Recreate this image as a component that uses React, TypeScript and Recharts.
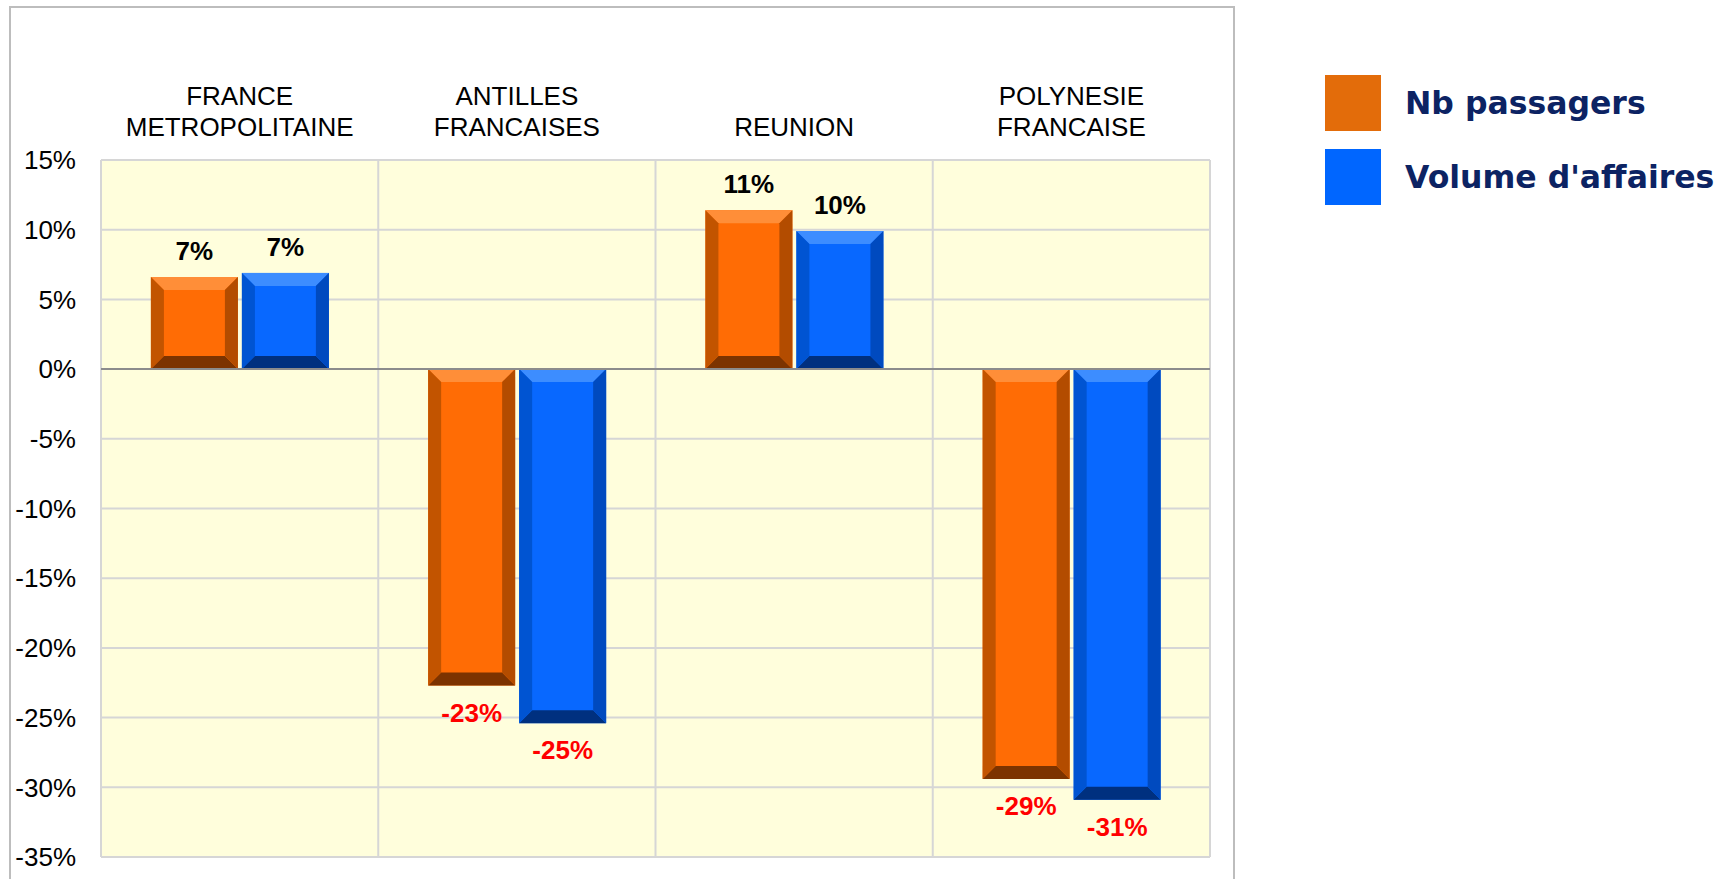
import {
  Bar,
  BarChart,
  CartesianGrid,
  LabelList,
  Legend,
  ReferenceLine,
  XAxis,
  YAxis,
} from "recharts";

const regions = [
  "FRANCE\nMETROPOLITAINE",
  "ANTILLES\nFRANCAISES",
  "REUNION",
  "POLYNESIE\nFRANCAISE",
];
const passagers = [6.6, -22.7, 11.4, -29.4];
const volume = [6.9, -25.4, 9.9, -30.9];
const seriesNames = ["Nb passagers", "Volume d'affaires"];
const yTicks = [15, 10, 5, 0, -5, -10, -15, -20, -25, -30, -35];

const data = regions.map((region, i) => ({
  region,
  passagers: passagers[i],
  volume: volume[i],
}));

const FONT = "'Liberation Sans', Arial, sans-serif";

const orange = {
  face: "#FF6C05",
  top: "#FF8E38",
  left: "#C25400",
  right: "#B34C00",
  bottom: "#7C3300",
  legend: "#E36C0A",
};
const blue = {
  face: "#0868FF",
  top: "#3D8DFF",
  left: "#0054D2",
  right: "#004ABF",
  bottom: "#00307F",
  legend: "#0066FF",
};

// bar with a simple bevel: light top edge, darker sides, darkest bottom
const BevelBar = (props: any) => {
  const { x, y, width, height, colors } = props;
  if (!width || !height) return null;
  const top = Math.min(y, y + height);
  const h = Math.abs(height);
  const b = Math.min(13, h / 2, width / 2);
  const r = x + width;
  const bt = top + h;
  return (
    <g>
      <rect x={x} y={top} width={width} height={h} fill={colors.face} />
      <polygon
        points={`${x},${top} ${r},${top} ${r - b},${top + b} ${x + b},${top + b}`}
        fill={colors.top}
      />
      <polygon
        points={`${x},${bt} ${r},${bt} ${r - b},${bt - b} ${x + b},${bt - b}`}
        fill={colors.bottom}
      />
      <polygon
        points={`${x},${top} ${x + b},${top + b} ${x + b},${bt - b} ${x},${bt}`}
        fill={colors.left}
      />
      <polygon
        points={`${r},${top} ${r - b},${top + b} ${r - b},${bt - b} ${r},${bt}`}
        fill={colors.right}
      />
    </g>
  );
};

const ValueLabel = (props: any) => {
  const { x, y, width, height, value } = props;
  const top = Math.min(y, y + height);
  const bottom = Math.max(y, y + height);
  const neg = value < 0;
  return (
    <text
      x={x + width / 2}
      y={neg ? bottom + 27 : top - 26}
      textAnchor="middle"
      dominantBaseline="central"
      fontFamily={FONT}
      fontWeight="bold"
      fontSize={26}
      fill={neg ? "#FF0000" : "#000000"}
    >
      {`${Math.round(value)}%`}
    </text>
  );
};

const RegionTick = (props: any) => {
  const { x, y, payload } = props;
  const lines = String(payload.value).split("\n");
  return (
    <g>
      {lines.map((line, i) => (
        <text
          key={i}
          x={x}
          y={y - 25 - (lines.length - 1 - i) * 31}
          textAnchor="middle"
          dominantBaseline="central"
          fontFamily={FONT}
          fontSize={26}
          fill="#000"
        >
          {line}
        </text>
      ))}
    </g>
  );
};

const LegendBox = () => (
  <div style={{ fontFamily: "'DejaVu Sans', Verdana, sans-serif" }}>
    {[orange, blue].map((c, i) => (
      <div
        key={i}
        style={{
          display: "flex",
          alignItems: "center",
          height: 56,
          marginBottom: 18,
        }}
      >
        <div style={{ width: 56, height: 56, background: c.legend }} />
        <span
          style={{
            marginLeft: 24,
            fontSize: 31.5,
            fontWeight: "bold",
            color: "#0C2363",
            whiteSpace: "nowrap",
          }}
        >
          {seriesNames[i]}
        </span>
      </div>
    ))}
  </div>
);

export default function App() {
  return (
    <div
      style={{
        position: "absolute",
        left: 0,
        top: 0,
        width: 1729,
        height: 879,
        overflow: "hidden",
        background: "#fff",
        fontFamily: FONT,
      }}
    >
      <div
        style={{
          position: "absolute",
          left: 9,
          top: 6,
          width: 1222,
          height: 900,
          border: "2px solid #BDBDBD",
        }}
      />
      <div style={{ position: "absolute", left: 0, top: 0 }}>
        <BarChart
          width={1729}
          height={879}
          data={data}
          margin={{ top: 0, right: 519, bottom: 22, left: 0 }}
          barCategoryGap="18%"
          barGap={4}
        >
          <CartesianGrid
            fill="#FFFEDC"
            stroke="#D6D6D6"
            strokeWidth={2}
            verticalCoordinatesGenerator={({ offset }: any) =>
              [...regions, ""].map(
                (_, i) => offset.left + (offset.width * i) / regions.length
              )
            }
          />
          <XAxis
            dataKey="region"
            orientation="top"
            height={160}
            axisLine={false}
            tickLine={false}
            interval={0}
            tick={<RegionTick />}
          />
          <YAxis
            width={101}
            domain={[-35, 15]}
            ticks={yTicks}
            interval={0}
            axisLine={false}
            tickLine={false}
            tickMargin={19}
            tickFormatter={(v: number) => `${v}%`}
            tick={{ fontSize: 26, fill: "#000", fontFamily: FONT }}
          />
          <Legend
            layout="vertical"
            verticalAlign="middle"
            align="center"
            wrapperStyle={{ left: 1325, top: 75, width: 400 }}
            content={() => <LegendBox />}
          />
          <Bar
            dataKey="passagers"
            name={seriesNames[0]}
            fill={orange.face}
            isAnimationActive={false}
            shape={(p: any) => <BevelBar {...p} colors={orange} />}
          >
            <LabelList dataKey="passagers" content={(p: any) => <ValueLabel {...p} />} />
          </Bar>
          <Bar
            dataKey="volume"
            name={seriesNames[1]}
            fill={blue.face}
            isAnimationActive={false}
            shape={(p: any) => <BevelBar {...p} colors={blue} />}
          >
            <LabelList dataKey="volume" content={(p: any) => <ValueLabel {...p} />} />
          </Bar>
          <ReferenceLine y={0} stroke="#8C8C8C" strokeWidth={2} />
        </BarChart>
      </div>
    </div>
  );
}
